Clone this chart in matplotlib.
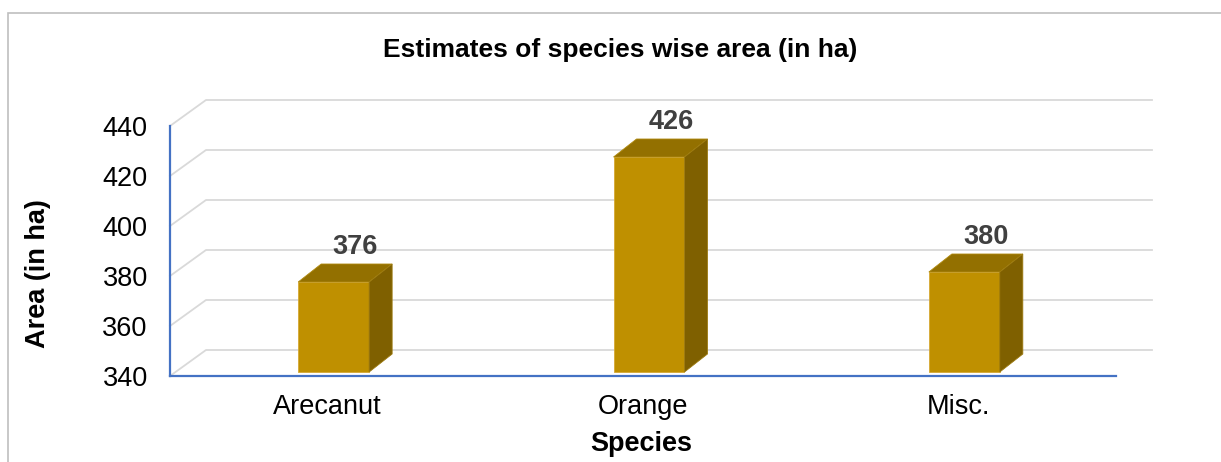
import matplotlib
matplotlib.use("Agg")
import matplotlib.pyplot as plt
from matplotlib.patches import Polygon, Rectangle

# data
species = ["Arecanut", "Orange", "Misc."]
area = [376, 426, 380]
yticks = [340, 360, 380, 400, 420, 440]

plt.rcParams["font.family"] = ["Liberation Sans", "DejaVu Sans"]

W, H = 1221, 462
fig = plt.figure(figsize=(W / 100, H / 100), dpi=100)
ax = fig.add_axes([170 / W, 86 / H, 946 / W, 250 / H])
ax.set_xlim(-0.5, 2.5)
ax.set_ylim(340, 440)


def px(dx, dy):
    # pixel offset -> data units
    inv = ax.transData.inverted()
    x0, y0 = inv.transform((0, 0))
    x1, y1 = inv.transform((dx, dy))
    return x1 - x0, y1 - y0


# back wall + side wall gridlines (pseudo 3D)
wx, wy = px(36, 26)
for v in yticks:
    ax.plot([-0.5, -0.5 + wx, 2.5 + wx], [v, v + wy, v + wy],
            color="#d9d9d9", lw=1.3, clip_on=False, zorder=0)

# bars
fx, fy = px(6, 4)
bx, by = px(23, 18)
bw = 0.225
base = yticks[0] + fy
for i, v in enumerate(area):
    x0 = i + fx - bw / 2
    x1 = i + fx + bw / 2
    top = v + fy
    ax.bar(i + fx, v - yticks[0], bottom=base, width=bw, color="#bf9000",
           edgecolor="#d6a933", lw=0.6, zorder=3, clip_on=False)
    ax.add_patch(Polygon([(x0, top), (x1, top), (x1 + bx, top + by), (x0 + bx, top + by)],
                         closed=True, facecolor="#937000", edgecolor="#b08a10",
                         lw=0.6, zorder=3, clip_on=False))
    ax.add_patch(Polygon([(x1, base), (x1, top), (x1 + bx, top + by), (x1 + bx, base + by)],
                         closed=True, facecolor="#7f6000", edgecolor="#9c7a10",
                         lw=0.6, zorder=3, clip_on=False))
    ax.annotate(str(v), xy=(i, v), xytext=(20, 23), textcoords="offset points",
                ha="center", va="baseline", fontsize=19.5, fontweight="bold",
                color="#404040", zorder=4)

# axes styling
for s in ["top", "right"]:
    ax.spines[s].set_visible(False)
for s in ["left", "bottom"]:
    ax.spines[s].set_color("#4472c4")
    ax.spines[s].set_linewidth(1.6)
    ax.spines[s].set_zorder(2)
ax.set_facecolor("none")
ax.set_yticks(yticks)
ax.set_xticks(range(len(species)))
ax.set_xticklabels(species)
ax.tick_params(axis="both", length=0, labelsize=19.5)
ax.tick_params(axis="y", pad=16)
ax.tick_params(axis="x", pad=13)

ax.set_ylabel("Area (in ha)", fontsize=19.5, fontweight="bold")
ax.yaxis.set_label_coords(-0.126, 0.41)
ax.set_xlabel("Species", fontsize=19.5, fontweight="bold")
ax.xaxis.set_label_coords(0.498, -0.22)

fig.text(620 / W, 1 - 50 / H, "Estimates of species wise area (in ha)",
         ha="center", va="center", fontsize=19, fontweight="bold")

# chart area border (right/bottom edges run off the picture)
fig.patches.append(Rectangle((8 / W, -0.5), 2, 1.5 - 13 / H, transform=fig.transFigure,
                             fill=False, edgecolor="#bfbfbf", lw=1.2))

fig.savefig("out.png", dpi=100)
